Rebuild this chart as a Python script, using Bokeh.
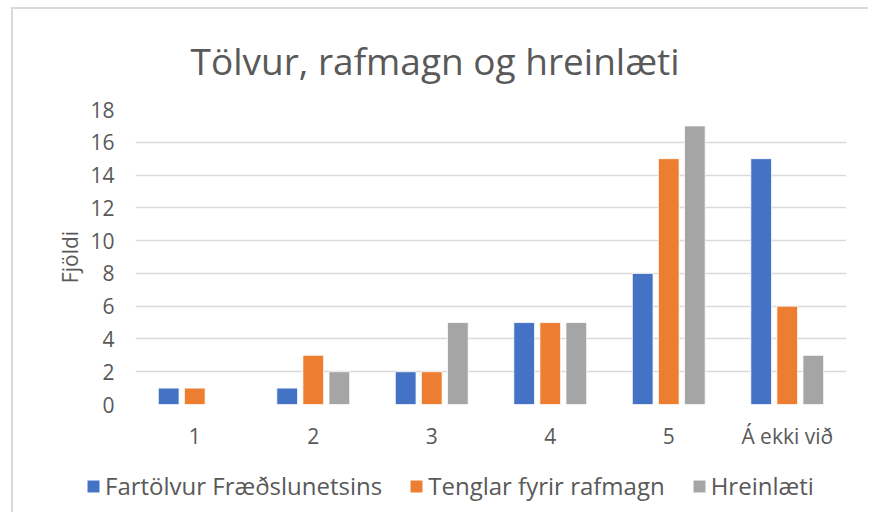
from bokeh.plotting import figure
from bokeh.models import ColumnDataSource, FactorRange, Range1d, Legend, LegendItem, FixedTicker
from bokeh.transform import dodge
from bokeh.embed import file_html
from bokeh.resources import INLINE

categories = ["1", "2", "3", "4", "5", "Á ekki við"]
series_names = ["Fartölvur Fræðslunetsins", "Tenglar fyrir rafmagn", "Hreinlæti"]
fartolvur = [1, 1, 2, 5, 8, 15]
tenglar = [1, 3, 2, 5, 15, 6]
hreinlaeti = [0, 2, 5, 5, 17, 3]
y_ticks = [0, 2, 4, 6, 8, 10, 12, 14, 16, 18]

colors = ["#4472C4", "#ED7D31", "#A5A5A5"]
FONT = "Open Sans"
TXT = "#595959"
keys = ["s0", "s1", "s2"]
offsets = [-0.22, 0.0, 0.22]

src = ColumnDataSource(dict(cat=categories, s0=fartolvur, s1=tenglar, s2=hreinlaeti))

p = figure(width=857, height=451, x_range=FactorRange(*categories, range_padding=0),
           y_range=Range1d(0, 18), output_backend="svg", toolbar_location=None,
           min_border_left=122, min_border_right=24, min_border_top=98, min_border_bottom=56)
p.styles = {"border-top": "2px solid #d9d9d9", "border-left": "2px solid #d9d9d9",
            "margin-top": "7px", "margin-left": "11px"}

p.title.text = "Tölvur, rafmagn og hreinlæti"
p.title.align = "left"
p.title.offset = 55
p.title.text_font = FONT
p.title.text_font_size = "37px"
p.title.text_font_style = "normal"
p.title.text_color = TXT
p.title.standoff = 47

for i, key in enumerate(keys):
    p.vbar(x=dodge("cat", offsets[i], range=p.x_range), top=key, width=0.175, bottom=0,
           source=src, fill_color=colors[i], line_color="white", line_width=0.8)

p.xgrid.grid_line_color = None
p.ygrid.grid_line_color = "#d9d9d9"
p.ygrid.grid_line_width = 1.6
p.yaxis.ticker = FixedTicker(ticks=y_ticks)
for ax in (p.xaxis, p.yaxis):
    ax.axis_line_color = None
    ax.major_tick_line_color = None
    ax.minor_tick_line_color = None
    ax.major_label_text_font = FONT
    ax.major_label_text_font_size = "21px"
    ax.major_label_text_color = TXT
p.yaxis.major_label_standoff = 15
p.xaxis.major_label_standoff = 11
p.yaxis.axis_label = "Fjöldi"
p.yaxis.axis_label_text_font = FONT
p.yaxis.axis_label_text_font_size = "21px"
p.yaxis.axis_label_text_font_style = "normal"
p.yaxis.axis_label_text_color = TXT
p.yaxis.axis_label_standoff = 3
p.outline_line_color = None

# legend strip below the chart (same series; bars fall outside its view)
p2 = figure(width=857, height=54, x_range=FactorRange(*categories), y_range=Range1d(100, 101),
            output_backend="svg", toolbar_location=None, min_border=0)
p2.styles = {"border-left": "2px solid #d9d9d9", "margin-left": "11px"}
p2.axis.visible = False
p2.grid.grid_line_color = None
p2.outline_line_color = None
leg_r = []
for i, key in enumerate(keys):
    leg_r.append(p2.vbar(x=dodge("cat", offsets[i], range=p2.x_range), top=key, width=0.175,
                         bottom=0, source=src, fill_color=colors[i], line_color="white",
                         line_width=0.8))

legend = Legend(items=[LegendItem(label=series_names[i], renderers=[leg_r[i]]) for i in range(3)],
                orientation="horizontal", location=(72, 10))
legend.label_text_font = FONT
legend.label_text_font_size = "24px"
legend.label_text_color = TXT
legend.glyph_width = 16
legend.glyph_height = 16
legend.label_standoff = 4
legend.spacing = 26
legend.padding = 0
legend.margin = 0
legend.border_line_color = None
legend.background_fill_alpha = 0
p2.add_layout(legend, "center")

open("out.html", "w").write(file_html([p, p2], INLINE))
